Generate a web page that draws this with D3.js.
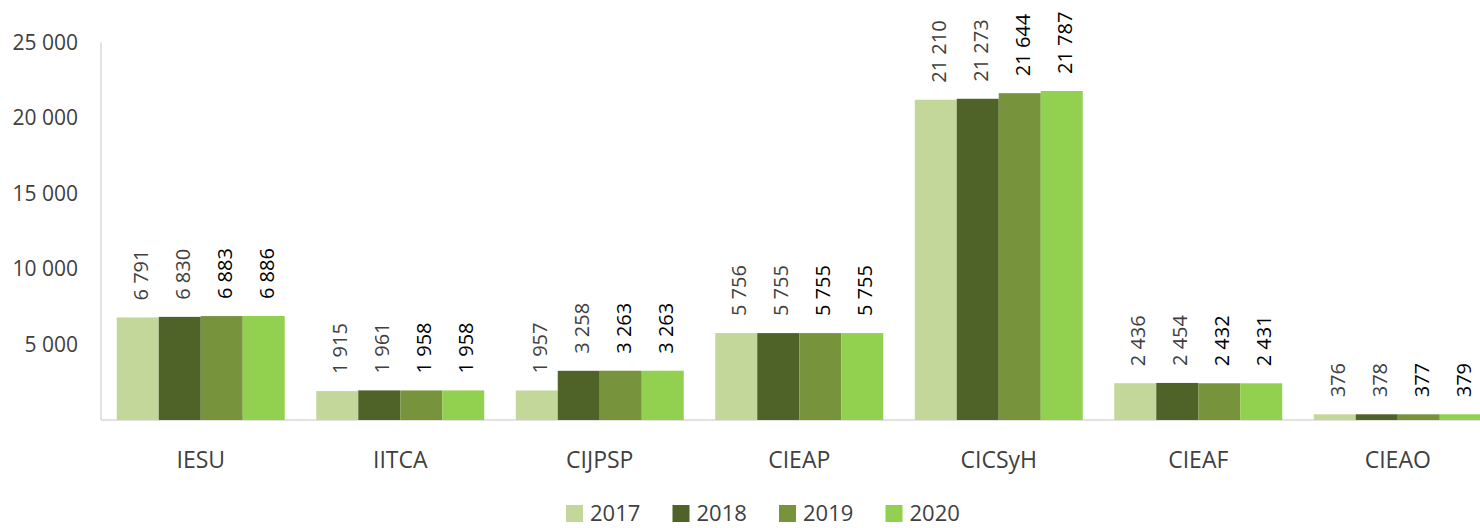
<!DOCTYPE html>
<html>
<head>
<meta charset="utf-8">
<script src="https://cdn.jsdelivr.net/npm/d3@7"></script>
<style>
  body { margin: 0; background: #fff; }
  svg { font-family: "Open Sans", "Liberation Sans", sans-serif; }
</style>
</head>
<body>
<svg width="1480" height="528"></svg>
<script>
const categories = ["IESU", "IITCA", "CIJPSP", "CIEAP", "CICSyH", "CIEAF", "CIEAO"];
const years = ["2017", "2018", "2019", "2020"];
const v2017 = [6791, 1915, 1957, 5756, 21210, 2436, 376];
const v2018 = [6830, 1961, 3258, 5755, 21273, 2454, 378];
const v2019 = [6883, 1958, 3263, 5755, 21644, 2432, 377];
const v2020 = [6886, 1958, 3263, 5755, 21787, 2431, 379];
const yTicks = [5000, 10000, 15000, 20000, 25000];
const colors = ["#c4d79b", "#4f6228", "#77933c", "#92d050"];
const labelColors = ["#404040", "#404040", "#000", "#000"];

const series = [v2017, v2018, v2019, v2020];

const svg = d3.select("svg");
const x0 = 101, y0 = 420;
const step = 199.5;

const x = d3.scaleBand()
    .domain(categories)
    .range([x0, x0 + step * categories.length])
    .paddingInner(0.158)
    .paddingOuter(0.079);
const xs = d3.scaleBand().domain(years).range([0, x.bandwidth()]);
const y = d3.scaleLinear().domain([0, 25000]).range([y0, 42.5]);

const fmt = (v) => d3.format(",")(v).replace(/,/g, " ");

// axes lines
svg.append("line")
    .attr("x1", x0).attr("x2", x0)
    .attr("y1", y(25000)).attr("y2", y0)
    .attr("stroke", "#d9d9d9").attr("stroke-width", 1.5);

svg.append("line")
    .attr("x1", x0).attr("x2", 1480)
    .attr("y1", y0).attr("y2", y0)
    .attr("stroke", "#d9d9d9").attr("stroke-width", 1.5);

svg.append("g").selectAll("text")
    .data(yTicks)
    .enter().append("text")
    .attr("x", 78)
    .attr("y", (d) => y(d))
    .attr("dy", "0.35em")
    .attr("text-anchor", "end")
    .attr("font-size", 21)
    .attr("fill", "#404040")
    .text(fmt);

svg.append("g").selectAll("text")
    .data(categories)
    .enter().append("text")
    .attr("x", (d) => x(d) + x.bandwidth() / 2)
    .attr("y", 468)
    .attr("text-anchor", "middle")
    .attr("font-size", 23)
    .attr("fill", "#404040")
    .text((d) => d);

// bars + labels
years.forEach((yr, si) => {
    const g = svg.append("g");
    g.selectAll("rect")
        .data(series[si])
        .enter().append("rect")
        .attr("x", (d, i) => x(categories[i]) + xs(yr))
        .attr("width", xs.bandwidth())
        .attr("y", (d) => y(d))
        .attr("height", (d) => y0 - y(d))
        .attr("fill", colors[si]);

    g.selectAll("text")
        .data(series[si])
        .enter().append("text")
        .attr("transform", (d, i) => {
            const cx = x(categories[i]) + xs(yr) + xs.bandwidth() / 2 + 3;
            return `translate(${cx},${y(d) - 17}) rotate(-90)`;
        })
        .attr("dy", "0.35em")
        .attr("font-size", 20)
        .attr("fill", labelColors[si])
        .text(fmt);
});

// legend
const legend = svg.append("g").selectAll("g")
    .data(years)
    .enter().append("g")
    .attr("transform", (d, i) => `translate(${566 + i * 106.5},505)`);
legend.append("rect")
    .attr("width", 17).attr("height", 17)
    .attr("fill", (d, i) => colors[i]);
legend.append("text")
    .attr("x", 24).attr("y", 16)
    .attr("font-size", 22)
    .attr("fill", "#404040")
    .text((d) => d);
</script>
</body>
</html>
